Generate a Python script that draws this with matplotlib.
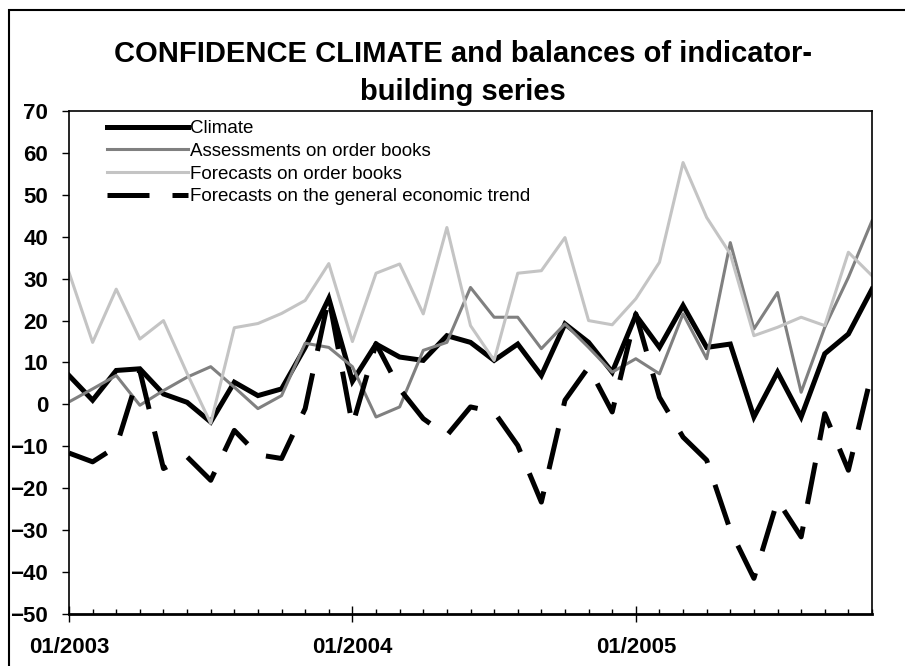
import numpy as np
import matplotlib
matplotlib.use("Agg")
import matplotlib.pyplot as plt
from matplotlib.patches import Rectangle

plt.rcParams['font.family'] = ['Liberation Sans', 'DejaVu Sans']

# monthly balances, 01/2003 .. 11/2005
climate = [6.9, 1.0, 8.1, 8.5, 2.5, 0.5, -4.2, 5.3, 2.1, 3.7,
           13.6, 25.3, 5.5, 14.4, 11.3, 10.5, 16.4, 14.8, 10.5, 14.4,
           6.9, 19.2, 14.8, 7.7, 21.3, 13.6, 23.6, 13.6, 14.4, -3.0,
           7.7, -3.0, 12.1, 16.8, 27.5]
assessments = [0.6, 3.7, 6.9, -0.2, 3.3, 6.5, 9.0, 4.1, -1.0, 2.1,
               14.6, 13.6, 9.0, -3.0, -0.6, 12.9, 14.8, 27.9, 20.8, 20.8,
               13.3, 19.2, 13.6, 7.7, 10.9, 7.3, 21.6, 10.9, 38.6, 18.0,
               26.7, 2.9, 18.4, 30.3, 43.8]
forecasts_orders = [31.5, 14.8, 27.5, 15.6, 20.0, 7.4, -4.5, 18.3, 19.3, 21.7,
                    24.8, 33.6, 15.0, 31.3, 33.5, 21.6, 42.2, 18.8, 10.5, 31.3,
                    31.9, 39.8, 20.0, 19.0, 25.2, 33.9, 57.7, 44.6, 35.9, 16.4,
                    18.4, 20.8, 18.8, 36.3, 30.7]
general_trend = [-11.6, -13.7, -10.1, 8.0, -15.3, -12.5, -18.1, -6.2, -12.0, -12.9,
                 -1.0, 25.5, -5.0, 14.5, 3.7, -3.4, -7.4, -0.6, -1.8, -9.8,
                 -23.3, 1.0, 8.9, -1.8, 21.6, 1.7, -7.8, -13.3, -30.0, -41.5,
                 -22.9, -31.6, -2.2, -15.7, 7.7]

year_ticks = [0, 12, 24]
year_labels = ["01/2003", "01/2004", "01/2005"]

x = np.arange(len(climate))

fig = plt.figure(figsize=(9.05, 6.66), dpi=100)
ax = fig.add_axes([69/905, 1 - 614/666, (872 - 69)/905, (614 - 111)/666])

ax.plot(x, climate, color="black", lw=3.6, label="Climate", solid_joinstyle="miter")
ax.plot(x, assessments, color="#808080", lw=2.2, label="Assessments on order books")
ax.plot(x, forecasts_orders, color="#C4C4C4", lw=2.2, label="Forecasts on order books")
ax.plot(x, general_trend, color="black", lw=3.6, dashes=(8.4, 4.6),
        label="Forecasts on the general economic trend")

ax.set_xlim(0, len(climate) - 1)
ax.set_ylim(-50, 70)
ax.set_yticks(np.arange(-50, 71, 10))
ax.set_xticks(year_ticks)
ax.set_xticklabels(year_labels)
ax.set_xticks(x, minor=True)

ax.tick_params(axis='y', direction='out', length=5, width=1, pad=10,
               labelsize=16)
ax.tick_params(axis='x', which='major', direction='inout', length=11, width=1,
               pad=11, labelsize=16)
ax.tick_params(axis='x', which='minor', direction='in', length=3.5, width=1)
for lab in ax.get_xticklabels() + ax.get_yticklabels():
    lab.set_fontweight('bold')

for side in ['left', 'top', 'right']:
    ax.spines[side].set_linewidth(1.2)
ax.spines['bottom'].set_linewidth(2)

leg = ax.legend(loc='upper left', bbox_to_anchor=(38/803, 1 - 9/503),
                frameon=False, fontsize=13.5, handlelength=4.3,
                handletextpad=0.1, labelspacing=0.3, borderaxespad=0,
                borderpad=0)

fig.text(463/905, 1 - 62/666, "CONFIDENCE CLIMATE and balances of indicator-",
         ha='center', va='baseline', fontsize=21, fontweight='bold')
fig.text(463/905, 1 - 100/666, "building series",
         ha='center', va='baseline', fontsize=21, fontweight='bold')

# outer chart border
fig.patches.append(Rectangle((9/905, -0.1), 2, 1 - 10/666 + 0.1,
                             transform=fig.transFigure, fill=False,
                             lw=1.5, edgecolor='black'))

fig.savefig("out.png", dpi=100)
